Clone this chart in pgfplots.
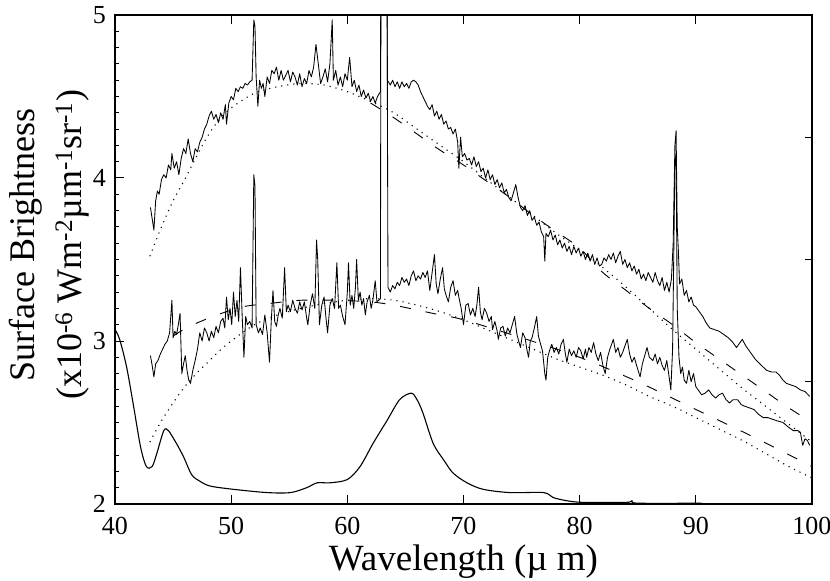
\documentclass[border=0pt]{standalone}
\usepackage{fontspec}
\newfontfamily\fa{Liberation Serif}
\newcommand\tl[1]{{\fa\fontsize{26pt}{30pt}\selectfont #1}}
\usepackage{pgfplots}
\pgfplotsset{compat=1.18}
\begin{document}
\begin{tikzpicture}
\begin{axis}[
  scale only axis, width=697pt, height=489pt,
  xmin=40, xmax=100, ymin=2, ymax=5,
  xtick={40,50,...,100}, ytick={2,3,4,5},
  xticklabels={\tl{40},\tl{50},\tl{60},\tl{70},\tl{80},\tl{90},\tl{100}},
  yticklabels={\tl{2},\tl{3},\tl{4},\tl{5}},
  minor y tick num=9,
  xtick pos=both, ytick pos=left,
  tick align=inside,
  major tick length=9pt, minor tick length=4.5pt,
  tick style={black, line width=1pt},
  axis line style={line width=1.3pt},
  xticklabel style={inner sep=0pt, anchor=north, yshift=-13pt},
  yticklabel style={inner sep=0pt, anchor=east, xshift=-9pt},
  xlabel={\fa\fontsize{37pt}{52pt}\selectfont Wavelength (µ m)},
  ylabel={\fa\fontsize{36pt}{50pt}\selectfont Surface Brightness\\[12pt]\fa\fontsize{36pt}{50pt}\selectfont (x10\textsuperscript{-6} Wm\textsuperscript{-2}µm\textsuperscript{-1}sr\textsuperscript{-1})},
  xlabel style={at={(axis description cs:0.5,-0.135)}, anchor=base, inner sep=0pt},
  ylabel style={at={(axis description cs:-0.0373,0.53)}, anchor=south, inner sep=0pt, align=center},
  spec/.style={black, line width=0.85pt, line join=round, mark=none},
]
% upper spectrum
\addplot[spec] coordinates {
(43.05,3.82)(43.2,3.75)(43.35,3.68)(43.5,3.86)(43.65,3.92)(43.8,3.90)(44.0,3.99)(44.2,4.02)(44.4,4.00)(44.6,4.08)(44.8,4.05)(44.9,4.15)(45.1,4.06)(45.3,4.10)(45.5,4.02)(45.7,4.12)(45.9,4.18)(46.1,4.15)(46.3,4.24)(46.5,4.15)(46.7,4.10)(46.9,4.18)(47.1,4.16)(47.3,4.22)(47.5,4.25)(47.7,4.30)(47.9,4.33)(48.1,4.38)(48.3,4.41)(48.5,4.36)(48.7,4.39)(48.9,4.34)(49.1,4.40)(49.3,4.36)(49.5,4.45)(49.6,4.33)(49.8,4.46)(50.0,4.50)(50.2,4.48)(50.4,4.55)(50.6,4.53)(50.8,4.56)(51.0,4.55)(51.2,4.58)(51.4,4.57)(51.6,4.59)(51.8,4.60)(51.95,4.97)(52.05,4.93)(52.15,4.62)(52.3,4.44)(52.45,4.60)(52.6,4.55)(52.75,4.58)(52.9,4.50)(53.1,4.62)(53.3,4.58)(53.5,4.66)(53.7,4.64)(53.9,4.68)(54.1,4.60)(54.3,4.66)(54.5,4.60)(54.7,4.63)(54.9,4.66)(55.1,4.59)(55.3,4.65)(55.5,4.62)(55.7,4.57)(55.9,4.64)(56.1,4.56)(56.3,4.61)(56.5,4.58)(56.7,4.66)(56.9,4.62)(57.1,4.68)(57.3,4.82)(57.5,4.70)(57.7,4.58)(57.9,4.62)(58.1,4.67)(58.3,4.59)(58.5,4.70)(58.7,4.97)(58.8,4.60)(59.0,4.66)(59.2,4.57)(59.4,4.62)(59.6,4.56)(59.8,4.64)(60.0,4.60)(60.2,4.74)(60.4,4.56)(60.6,4.60)(60.8,4.53)(61.0,4.57)(61.2,4.50)(61.4,4.54)(61.6,4.49)(61.8,4.52)(62.0,4.47)(62.2,4.50)(62.4,4.46)(62.6,4.50)(62.85,4.53)(62.9,5.6)(63.4,5.6)(63.45,4.60)(63.7,4.57)(63.9,4.60)(64.1,4.56)(64.3,4.59)(64.5,4.55)(64.7,4.59)(64.9,4.56)(65.1,4.58)(65.3,4.55)(65.5,4.59)(65.7,4.60)(65.9,4.59)(66.1,4.57)(66.3,4.53)(66.5,4.50)(66.7,4.47)(66.9,4.44)(67.1,4.42)(67.3,4.45)(67.5,4.38)(67.7,4.41)(67.9,4.36)(68.1,4.39)(68.3,4.33)(68.5,4.35)(68.7,4.30)(68.9,4.31)(69.1,4.27)(69.3,4.30)(69.5,4.22)(69.6,4.06)(69.75,4.25)(69.9,4.13)(70.1,4.15)(70.3,4.11)(70.5,4.12)(70.7,4.08)(70.9,4.13)(71.1,4.07)(71.3,4.10)(71.5,4.04)(71.7,4.06)(71.9,4.00)(72.1,4.05)(72.3,3.99)(72.5,4.02)(72.7,3.96)(72.9,3.99)(73.1,3.94)(73.3,3.97)(73.5,3.91)(73.7,3.93)(73.9,3.88)(74.1,3.86)(74.3,3.91)(74.5,3.96)(74.7,3.88)(74.9,3.82)(75.1,3.80)(75.3,3.83)(75.5,3.77)(75.7,3.80)(75.9,3.74)(76.1,3.76)(76.3,3.71)(76.5,3.73)(76.7,3.67)(76.9,3.64)(77.0,3.49)(77.1,3.66)(77.3,3.64)(77.5,3.68)(77.7,3.62)(77.9,3.65)(78.1,3.59)(78.3,3.62)(78.5,3.57)(78.7,3.60)(78.9,3.55)(79.1,3.58)(79.3,3.53)(79.5,3.58)(79.7,3.54)(79.9,3.57)(80.1,3.52)(80.3,3.55)(80.5,3.50)(80.7,3.54)(80.9,3.49)(81.1,3.53)(81.3,3.47)(81.5,3.51)(81.7,3.46)(81.9,3.47)(82.1,3.51)(82.3,3.49)(82.5,3.53)(82.7,3.50)(82.9,3.54)(83.1,3.48)(83.3,3.52)(83.5,3.55)(83.7,3.47)(83.9,3.50)(84.1,3.45)(84.3,3.48)(84.5,3.43)(84.7,3.46)(84.9,3.41)(85.1,3.44)(85.3,3.38)(85.5,3.41)(85.7,3.37)(85.9,3.42)(86.1,3.39)(86.3,3.36)(86.5,3.42)(86.7,3.37)(86.9,3.34)(87.1,3.39)(87.3,3.31)(87.5,3.36)(87.7,3.30)(87.9,3.38)(88.05,3.60)(88.2,4.20)(88.3,4.29)(88.4,3.70)(88.5,3.55)(88.6,3.35)(88.8,3.38)(89.0,3.28)(89.2,3.31)(89.4,3.24)(89.6,3.27)(89.8,3.22)(90.0,3.21)(90.3,3.18)(90.6,3.15)(90.9,3.11)(91.2,3.08)(91.6,3.07)(92.0,3.06)(92.4,3.04)(92.8,3.02)(93.2,2.99)(93.5,2.96)(93.8,2.99)(94.0,3.01)(94.3,2.97)(94.7,2.93)(95.1,2.89)(95.5,2.86)(95.8,2.84)(96.1,2.82)(96.5,2.81)(96.9,2.81)(97.2,2.79)(97.5,2.76)(97.8,2.74)(98.2,2.73)(98.6,2.72)(99.0,2.70)(99.4,2.69)(99.8,2.66)
};
% lower spectrum
\addplot[spec] coordinates {
(43.05,2.91)(43.2,2.85)(43.35,2.78)(43.5,2.86)(43.7,2.88)(43.9,2.92)(44.1,2.95)(44.3,2.98)(44.5,3.00)(44.7,3.05)(44.9,3.25)(45.0,3.02)(45.15,3.06)(45.3,3.04)(45.45,3.10)(45.6,3.17)(45.75,2.80)(45.9,2.86)(46.05,2.91)(46.2,2.82)(46.35,2.76)(46.5,2.74)(46.7,2.82)(46.9,2.88)(47.1,2.95)(47.3,3.05)(47.5,3.00)(47.7,3.08)(47.9,3.05)(48.1,3.00)(48.3,3.06)(48.5,3.02)(48.7,3.09)(48.9,3.05)(49.1,3.12)(49.3,3.14)(49.45,3.08)(49.6,3.27)(49.75,3.13)(49.9,3.20)(50.05,3.10)(50.2,3.30)(50.35,3.15)(50.5,3.25)(50.65,3.12)(50.8,3.45)(50.95,3.15)(51.1,2.90)(51.25,3.15)(51.4,3.10)(51.6,3.12)(51.8,3.08)(51.95,4.02)(52.05,3.95)(52.15,3.10)(52.35,3.05)(52.5,3.08)(52.7,3.04)(52.9,3.16)(53.1,3.05)(53.3,2.87)(53.45,3.12)(53.6,3.31)(53.75,3.12)(53.9,3.09)(54.05,3.16)(54.2,3.20)(54.4,3.14)(54.6,3.45)(54.75,3.18)(54.9,3.22)(55.1,3.18)(55.3,3.25)(55.5,3.20)(55.7,3.17)(55.9,3.24)(56.1,3.19)(56.3,3.24)(56.5,3.14)(56.6,3.10)(56.8,3.22)(57.0,3.29)(57.2,3.20)(57.35,3.62)(57.45,3.50)(57.6,3.10)(57.8,3.22)(58.0,3.27)(58.15,3.15)(58.3,3.05)(58.5,3.22)(58.7,3.26)(58.9,3.20)(59.1,3.48)(59.25,3.20)(59.4,3.22)(59.6,3.15)(59.8,3.10)(60.0,3.30)(60.1,3.48)(60.25,3.22)(60.4,3.28)(60.55,3.20)(60.7,3.33)(60.8,3.50)(60.95,3.25)(61.1,3.30)(61.25,3.22)(61.4,3.26)(61.55,3.16)(61.7,3.24)(61.9,3.28)(62.05,3.20)(62.2,3.25)(62.4,3.37)(62.55,3.24)(62.85,3.26)(62.9,5.6)(63.4,5.6)(63.5,3.33)(63.7,3.30)(63.9,3.34)(64.1,3.32)(64.3,3.36)(64.5,3.34)(64.7,3.39)(64.9,3.36)(65.1,3.38)(65.3,3.34)(65.5,3.40)(65.7,3.43)(65.9,3.37)(66.1,3.40)(66.3,3.38)(66.5,3.42)(66.7,3.39)(66.9,3.43)(67.1,3.31)(67.3,3.42)(67.5,3.53)(67.65,3.35)(67.8,3.29)(68.0,3.38)(68.2,3.45)(68.35,3.32)(68.5,3.28)(68.7,3.24)(68.9,3.33)(69.1,3.37)(69.3,3.28)(69.5,3.31)(69.6,3.27)(69.8,3.20)(70.0,3.10)(70.2,3.22)(70.4,3.23)(70.6,3.16)(70.8,3.20)(71.0,3.15)(71.15,3.22)(71.3,3.33)(71.45,3.18)(71.6,3.13)(71.8,3.20)(72.0,3.17)(72.2,3.12)(72.4,3.15)(72.5,3.07)(72.7,3.12)(72.9,3.06)(73.0,3.01)(73.2,3.08)(73.4,3.09)(73.6,3.03)(73.8,3.08)(74.0,3.05)(74.2,3.10)(74.4,3.15)(74.6,3.04)(74.9,2.96)(75.1,3.05)(75.3,3.02)(75.45,2.95)(75.6,2.90)(75.75,3.00)(75.9,3.02)(76.1,3.08)(76.3,3.15)(76.45,3.03)(76.6,2.99)(76.8,2.94)(77.0,2.80)(77.1,2.76)(77.25,2.90)(77.4,2.94)(77.6,2.98)(77.8,2.93)(78.0,2.96)(78.2,2.92)(78.4,2.98)(78.6,3.01)(78.75,2.93)(78.9,2.87)(79.1,2.95)(79.3,2.91)(79.5,2.94)(79.7,2.90)(79.9,2.96)(80.1,2.94)(80.3,2.89)(80.5,2.95)(80.6,2.90)(80.8,2.96)(81.0,2.93)(81.2,2.99)(81.4,2.92)(81.6,2.88)(81.8,2.93)(82.0,2.85)(82.2,2.80)(82.4,2.90)(82.6,2.95)(82.9,3.01)(83.1,2.93)(83.3,2.96)(83.5,2.90)(83.7,2.93)(83.9,2.97)(84.1,3.01)(84.3,2.92)(84.5,2.87)(84.7,2.90)(84.9,2.85)(85.2,2.78)(85.4,2.86)(85.6,2.91)(85.8,2.96)(86.0,2.90)(86.3,2.88)(86.5,2.92)(86.7,2.86)(86.9,2.90)(87.1,2.85)(87.3,2.82)(87.5,2.88)(87.7,2.78)(87.85,2.70)(88.0,2.95)(88.2,4.10)(88.3,4.15)(88.4,3.20)(88.55,2.90)(88.7,2.80)(88.85,2.84)(89.0,2.76)(89.2,2.74)(89.4,2.82)(89.6,2.75)(89.8,2.80)(90.0,2.72)(90.2,2.70)(90.5,2.67)(90.8,2.68)(91.1,2.70)(91.4,2.67)(91.7,2.65)(92.0,2.67)(92.3,2.68)(92.6,2.64)(92.9,2.62)(93.2,2.64)(93.6,2.64)(93.9,2.61)(94.2,2.60)(94.6,2.59)(95.0,2.58)(95.4,2.55)(95.8,2.53)(96.2,2.53)(96.6,2.52)(97.0,2.51)(97.5,2.50)(98.0,2.47)(98.4,2.45)(98.8,2.45)(99.0,2.44)(99.2,2.36)(99.4,2.40)(99.6,2.39)(99.8,2.36)
};
% upper model, dotted
\addplot[black, smooth, line width=1.1pt, dash pattern=on 1.1pt off 5pt] coordinates {
(43,3.52)(44,3.70)(45,3.86)(46,3.99)(47,4.13)(48,4.26)(49,4.36)(50,4.43)(52,4.52)(54,4.56)(56,4.58)(58,4.57)(60,4.53)(62,4.47)(64,4.40)(66,4.30)(68,4.20)(70,4.10)(72,3.99)(74,3.88)(76,3.77)(78,3.66)(80,3.56)(82,3.45)(84,3.33)(86,3.20)(88,3.07)(90,2.95)(92,2.83)(94,2.71)(96,2.60)(98,2.49)(100,2.38)
};
% upper model, dashed
\addplot[black, smooth, line width=0.9pt, dash pattern=on 11pt off 15pt] coordinates {
(62,4.46)(64,4.37)(66,4.27)(68,4.17)(70,4.08)(72,3.98)(74,3.88)(76,3.77)(78,3.67)(80,3.57)(82,3.42)(84,3.31)(86,3.20)(88,3.10)(90,2.99)(92,2.89)(94,2.79)(96,2.69)(98,2.59)(100,2.50)
};
% lower model, dotted
\addplot[black, smooth, line width=1.1pt, dash pattern=on 1.1pt off 5pt] coordinates {
(43,2.38)(44,2.51)(45,2.62)(46,2.72)(47,2.80)(48,2.87)(49,2.94)(50,3.00)(52,3.10)(54,3.16)(56,3.20)(58,3.23)(60,3.25)(62,3.26)(64,3.25)(66,3.22)(68,3.18)(70,3.13)(72,3.07)(74,3.01)(76,2.95)(78,2.89)(80,2.84)(82,2.79)(84,2.73)(86,2.66)(88,2.60)(90,2.53)(92,2.46)(94,2.39)(96,2.31)(98,2.23)(100,2.16)
};
% lower model, dashed
\addplot[black, smooth, line width=0.9pt, dash pattern=on 11pt off 15pt] coordinates {
(45,3.03)(46.4,3.09)(48.8,3.16)(51,3.21)(53.3,3.23)(56,3.25)(59,3.25)(62,3.24)(64,3.22)(66,3.19)(68,3.16)(70,3.13)(75,3.02)(80,2.90)(85,2.75)(90,2.58)(95,2.41)(100,2.23)
};
% bottom curve
\addplot[black, line width=1.1pt, smooth, tension=0.5] coordinates {
(40.0,3.07)(40.4,3.01)(41.0,2.84)(41.6,2.60)(42.2,2.35)(42.7,2.23)(43.2,2.23)(43.6,2.31)(44.2,2.45)(44.6,2.45)(45.3,2.37)(45.9,2.29)(46.6,2.18)(47.3,2.14)(48.2,2.11)(50.2,2.09)(53.1,2.07)(55.1,2.07)(56.5,2.10)(57.4,2.13)(58.5,2.13)(60.0,2.15)(61.1,2.23)(62.2,2.37)(63.4,2.51)(64.5,2.64)(65.5,2.68)(66.0,2.64)(66.5,2.56)(67.4,2.37)(68.3,2.27)(69.1,2.19)(70.3,2.13)(71.7,2.09)(74.0,2.07)(76.9,2.07)(77.7,2.04)(78.9,2.02)(80.3,2.01)(84.0,2.01)(84.5,2.02)(85.0,2.005)(90.5,2.005)
};
\end{axis}
\begin{axis}[
  scale only axis, width=697pt, height=489pt,
  xmin=40, xmax=100, ymin=2, ymax=5,
  hide x axis,
  axis y line*=right,
  ytick={2.75,3.5,4.25}, yticklabels={},
  tick align=inside, major tick length=7pt,
  tick style={black, line width=1pt},
  axis line style={line width=1.3pt},
]
\end{axis}
\pgfresetboundingbox
\path[use as bounding box] (-115pt,-77pt) rectangle (715pt,504pt);
\end{tikzpicture}
\end{document}
